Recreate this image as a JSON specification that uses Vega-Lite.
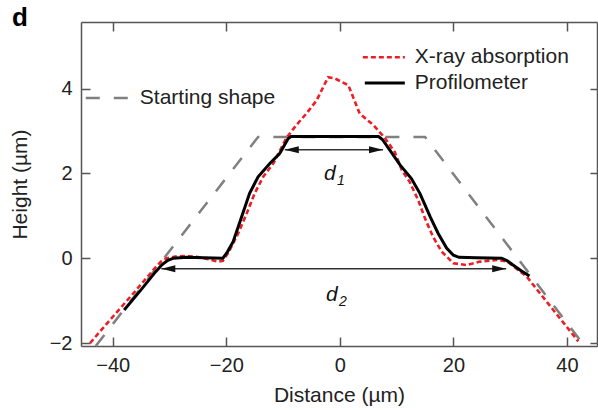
{
  "$schema": "https://vega.github.io/schema/vega-lite/v6.json",
  "width": 516,
  "height": 324,
  "autosize": {"type": "none"},
  "padding": {"left": 81, "top": 22, "right": 1, "bottom": 64},
  "background": "white",
  "title": {"text": "d", "anchor": "start", "frame": "group", "orient": "top", "offset": 0, "dx": -69, "dy": 31, "baseline": "alphabetic", "fontSize": 26, "fontWeight": "bold", "font": "Liberation Sans", "color": "#000"},
  "config": {
    "view": {"stroke": null},
    "font": "Liberation Sans",
    "axis": {"grid": false, "domainColor": "#555", "domainWidth": 1.5, "tickColor": "#555", "tickWidth": 1.5, "labelColor": "#222", "labelFontSize": 20, "labelFont": "Liberation Sans", "titleFont": "Liberation Sans", "titleFontSize": 21, "titleFontWeight": "normal", "titleColor": "#222"}
  },
  "datasets": {
    "start": [
      {"x": -43.0, "y": -2.07, "grp": "curve"},
      {"x": -14.4, "y": 2.86, "grp": "curve"},
      {"x": 15.0, "y": 2.86, "grp": "curve"},
      {"x": 43.0, "y": -2.05, "grp": "curve"},
      {"x": -44.76, "y": 3.78, "grp": "legend"},
      {"x": -37.36, "y": 3.78, "grp": "legend"}
    ],
    "xray": [
      {"x": -44.0, "y": -2.0, "grp": "curve"},
      {"x": -40.0, "y": -1.38, "grp": "curve"},
      {"x": -36.0, "y": -0.77, "grp": "curve"},
      {"x": -32.5, "y": -0.22, "grp": "curve"},
      {"x": -31.5, "y": -0.08, "grp": "curve"},
      {"x": -30.5, "y": 0.0, "grp": "curve"},
      {"x": -29.0, "y": 0.04, "grp": "curve"},
      {"x": -27.0, "y": 0.05, "grp": "curve"},
      {"x": -25.0, "y": 0.03, "grp": "curve"},
      {"x": -23.0, "y": -0.03, "grp": "curve"},
      {"x": -21.5, "y": -0.08, "grp": "curve"},
      {"x": -20.6, "y": -0.06, "grp": "curve"},
      {"x": -19.7, "y": 0.12, "grp": "curve"},
      {"x": -18.8, "y": 0.35, "grp": "curve"},
      {"x": -17.9, "y": 0.59, "grp": "curve"},
      {"x": -16.4, "y": 1.06, "grp": "curve"},
      {"x": -15.0, "y": 1.53, "grp": "curve"},
      {"x": -13.5, "y": 1.92, "grp": "curve"},
      {"x": -11.7, "y": 2.24, "grp": "curve"},
      {"x": -9.4, "y": 2.84, "grp": "curve"},
      {"x": -7.6, "y": 3.15, "grp": "curve"},
      {"x": -5.9, "y": 3.41, "grp": "curve"},
      {"x": -4.1, "y": 3.72, "grp": "curve"},
      {"x": -2.06, "y": 4.27, "grp": "curve"},
      {"x": -0.9, "y": 4.24, "grp": "curve"},
      {"x": 1.5, "y": 4.08, "grp": "curve"},
      {"x": 3.5, "y": 3.41, "grp": "curve"},
      {"x": 5.9, "y": 3.14, "grp": "curve"},
      {"x": 7.9, "y": 2.84, "grp": "curve"},
      {"x": 9.7, "y": 2.5, "grp": "curve"},
      {"x": 10.9, "y": 2.08, "grp": "curve"},
      {"x": 12.3, "y": 1.8, "grp": "curve"},
      {"x": 13.8, "y": 1.37, "grp": "curve"},
      {"x": 15.0, "y": 0.94, "grp": "curve"},
      {"x": 16.4, "y": 0.51, "grp": "curve"},
      {"x": 17.9, "y": 0.16, "grp": "curve"},
      {"x": 20.0, "y": -0.12, "grp": "curve"},
      {"x": 22.3, "y": -0.16, "grp": "curve"},
      {"x": 24.7, "y": -0.08, "grp": "curve"},
      {"x": 27.6, "y": -0.04, "grp": "curve"},
      {"x": 29.5, "y": -0.08, "grp": "curve"},
      {"x": 32.9, "y": -0.43, "grp": "curve"},
      {"x": 37.6, "y": -1.22, "grp": "curve"},
      {"x": 42.0, "y": -1.96, "grp": "curve"},
      {"x": 4.05, "y": 4.74, "grp": "legend"},
      {"x": 11.45, "y": 4.74, "grp": "legend"}
    ],
    "prof": [
      {"x": -38.0, "y": -1.22, "grp": "curve"},
      {"x": -35.0, "y": -0.74, "grp": "curve"},
      {"x": -32.4, "y": -0.31, "grp": "curve"},
      {"x": -31.3, "y": -0.15, "grp": "curve"},
      {"x": -30.3, "y": -0.05, "grp": "curve"},
      {"x": -29.3, "y": 0.0, "grp": "curve"},
      {"x": -27.0, "y": 0.02, "grp": "curve"},
      {"x": -24.0, "y": 0.01, "grp": "curve"},
      {"x": -20.6, "y": 0.0, "grp": "curve"},
      {"x": -19.8, "y": 0.15, "grp": "curve"},
      {"x": -18.8, "y": 0.39, "grp": "curve"},
      {"x": -17.3, "y": 0.98, "grp": "curve"},
      {"x": -15.9, "y": 1.53, "grp": "curve"},
      {"x": -14.4, "y": 1.92, "grp": "curve"},
      {"x": -12.3, "y": 2.24, "grp": "curve"},
      {"x": -10.6, "y": 2.47, "grp": "curve"},
      {"x": -9.1, "y": 2.82, "grp": "curve"},
      {"x": -8.6, "y": 2.87, "grp": "curve"},
      {"x": 6.8, "y": 2.87, "grp": "curve"},
      {"x": 7.5, "y": 2.8, "grp": "curve"},
      {"x": 8.8, "y": 2.55, "grp": "curve"},
      {"x": 10.6, "y": 2.2, "grp": "curve"},
      {"x": 12.6, "y": 1.88, "grp": "curve"},
      {"x": 14.1, "y": 1.53, "grp": "curve"},
      {"x": 15.9, "y": 0.98, "grp": "curve"},
      {"x": 17.3, "y": 0.59, "grp": "curve"},
      {"x": 18.8, "y": 0.24, "grp": "curve"},
      {"x": 20.0, "y": 0.07, "grp": "curve"},
      {"x": 21.0, "y": 0.02, "grp": "curve"},
      {"x": 24.0, "y": 0.01, "grp": "curve"},
      {"x": 28.5, "y": 0.0, "grp": "curve"},
      {"x": 29.5, "y": -0.06, "grp": "curve"},
      {"x": 30.5, "y": -0.16, "grp": "curve"},
      {"x": 32.0, "y": -0.3, "grp": "curve"},
      {"x": 33.4, "y": -0.42, "grp": "curve"},
      {"x": 4.4, "y": 4.13, "grp": "legend"},
      {"x": 11.45, "y": 4.13, "grp": "legend"}
    ],
    "arrows": [
      {"x": -9.7, "x2": 7.6, "y": 2.56},
      {"x": -31.45, "x2": 29.3, "y": -0.25}
    ],
    "heads": [
      {"x": -9.7, "y": 2.56, "dir": "L"},
      {"x": 7.6, "y": 2.56, "dir": "R"},
      {"x": -31.45, "y": -0.25, "dir": "L"},
      {"x": 29.3, "y": -0.25, "dir": "R"}
    ],
    "dlabels": [
      {"x": -1.76, "y": 1.99, "t": "d"},
      {"x": -1.41, "y": -0.865, "t": "d"}
    ],
    "subs": [
      {"x": 0.18, "y": 1.82, "t": "1"},
      {"x": 0.53, "y": -1.03, "t": "2"}
    ],
    "legendText": [
      {"x": 13.2, "y": 4.74, "t": "X-ray absorption"},
      {"x": 13.2, "y": 4.13, "t": "Profilometer"},
      {"x": -35.24, "y": 3.78, "t": "Starting shape"}
    ]
  },
  "resolve": {"axis": {"x": "independent", "y": "independent"}},
  "layer": [
    {
      "data": {"name": "start"},
      "mark": {"type": "line", "color": "#808080", "strokeWidth": 2.5, "strokeDash": [14, 14], "strokeCap": "butt"},
      "encoding": {
        "x": {"field": "x", "type": "quantitative", "scale": {"domain": [-45.6, 45.3], "nice": false, "zero": false},
              "axis": {"orient": "bottom", "values": [-40, -20, 0, 20, 40], "title": "Distance (µm)", "tickSize": -9, "labelPadding": 18, "titlePadding": 9}},
        "y": {"field": "y", "type": "quantitative", "scale": {"domain": [-2.07, 5.57], "nice": false, "zero": false},
              "axis": {"orient": "left", "values": [-2, 0, 2, 4], "title": "Height (µm)", "tickSize": -9, "labelPadding": 18, "titlePadding": 19}},
        "detail": {"field": "grp"}
      }
    },
    {
      "data": {"name": "xray"},
      "mark": {"type": "line", "color": "#ee1c25", "strokeWidth": 2.6, "strokeDash": [5, 3], "strokeCap": "butt"},
      "encoding": {
        "x": {"field": "x", "type": "quantitative", "scale": {"domain": [-45.6, 45.3], "nice": false, "zero": false}, "axis": null},
        "y": {"field": "y", "type": "quantitative", "scale": {"domain": [-2.07, 5.57], "nice": false, "zero": false}, "axis": null},
        "detail": {"field": "grp"}
      }
    },
    {
      "data": {"name": "prof"},
      "mark": {"type": "line", "color": "#000", "strokeWidth": 3},
      "encoding": {
        "x": {"field": "x", "type": "quantitative", "scale": {"domain": [-45.6, 45.3], "nice": false, "zero": false}, "axis": null},
        "y": {"field": "y", "type": "quantitative", "scale": {"domain": [-2.07, 5.57], "nice": false, "zero": false}, "axis": null},
        "detail": {"field": "grp"}
      }
    },
    {
      "data": {"name": "arrows"},
      "mark": {"type": "rule", "color": "#333", "strokeWidth": 1.5},
      "encoding": {
        "x": {"field": "x", "type": "quantitative", "scale": {"domain": [-45.6, 45.3], "nice": false, "zero": false},
              "axis": {"orient": "top", "values": [-40, -20, 0, 20, 40], "labels": false, "title": null, "tickSize": -9}},
        "x2": {"field": "x2"},
        "y": {"field": "y", "type": "quantitative", "scale": {"domain": [-2.07, 5.57], "nice": false, "zero": false},
              "axis": {"orient": "right", "values": [-2, 0, 2, 4], "labels": false, "title": null, "tickSize": -7}}
      }
    },
    {
      "data": {"name": "heads"},
      "mark": {"type": "point", "filled": true, "color": "#111", "opacity": 1, "size": 196},
      "encoding": {
        "x": {"field": "x", "type": "quantitative", "scale": {"domain": [-45.6, 45.3], "nice": false, "zero": false}, "axis": null},
        "y": {"field": "y", "type": "quantitative", "scale": {"domain": [-2.07, 5.57], "nice": false, "zero": false}, "axis": null},
        "shape": {"field": "dir", "type": "nominal", "legend": null, "scale": {"domain": ["L", "R"], "range": ["M 0 0 L 2 -0.5 L 2 0.5 Z", "M 0 0 L -2 -0.5 L -2 0.5 Z"]}}
      }
    },
    {
      "data": {"name": "dlabels"},
      "mark": {"type": "text", "fontSize": 21, "fontStyle": "italic", "font": "Liberation Sans", "color": "#111", "align": "center", "baseline": "middle"},
      "encoding": {
        "x": {"field": "x", "type": "quantitative", "scale": {"domain": [-45.6, 45.3], "nice": false, "zero": false}, "axis": null},
        "y": {"field": "y", "type": "quantitative", "scale": {"domain": [-2.07, 5.57], "nice": false, "zero": false}, "axis": null},
        "text": {"field": "t"}
      }
    },
    {
      "data": {"name": "subs"},
      "mark": {"type": "text", "fontSize": 14, "fontStyle": "italic", "font": "Liberation Sans", "color": "#111", "align": "center", "baseline": "middle"},
      "encoding": {
        "x": {"field": "x", "type": "quantitative", "scale": {"domain": [-45.6, 45.3], "nice": false, "zero": false}, "axis": null},
        "y": {"field": "y", "type": "quantitative", "scale": {"domain": [-2.07, 5.57], "nice": false, "zero": false}, "axis": null},
        "text": {"field": "t"}
      }
    },
    {
      "data": {"name": "legendText"},
      "mark": {"type": "text", "fontSize": 21, "font": "Liberation Sans", "color": "#222", "align": "left", "baseline": "middle"},
      "encoding": {
        "x": {"field": "x", "type": "quantitative", "scale": {"domain": [-45.6, 45.3], "nice": false, "zero": false}, "axis": null},
        "y": {"field": "y", "type": "quantitative", "scale": {"domain": [-2.07, 5.57], "nice": false, "zero": false}, "axis": null},
        "text": {"field": "t"}
      }
    }
  ]
}
